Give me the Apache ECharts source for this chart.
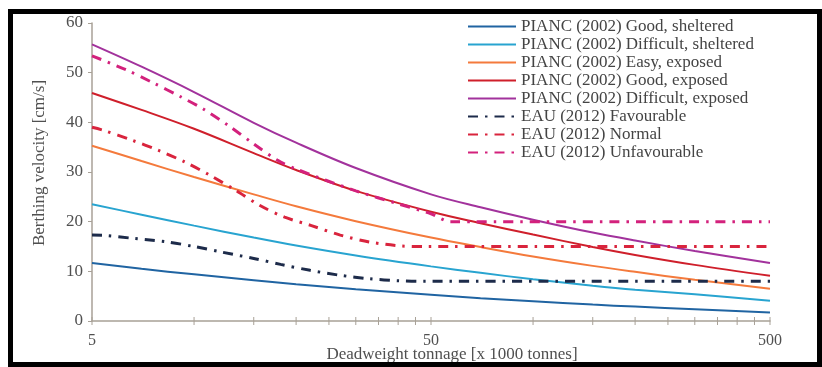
<!DOCTYPE html>
<html>
<head>
<meta charset="utf-8">
<script src="https://cdn.jsdelivr.net/npm/echarts@6/dist/echarts.min.js"></script>
<style>
  html, body { margin: 0; padding: 0; background: #fff; }
  #chart1 { width: 822px; height: 367px; }
</style>
</head>
<body>
<div id="chart1"></div>
<script>
// deadweight tonnage [x 1000 t] for the PIANC curves
var dwt = [5, 7, 10, 15, 20, 30, 50, 70, 100, 150, 200, 300, 500];

// PIANC (2002) berthing velocity [cm/s]
var goodSheltered      = [11.7, 10.5, 9.4, 8.2, 7.4, 6.4, 5.3, 4.6, 4.0, 3.3, 2.9, 2.35, 1.7];
var difficultSheltered = [23.5, 21.4, 19.2, 16.8, 15.2, 13.2, 11.0, 9.7, 8.4, 7.1, 6.3, 5.4, 4.1];
var easyExposed        = [35.3, 32.2, 29.0, 25.5, 23.1, 20.1, 16.8, 14.9, 13.0, 11.1, 9.9, 8.3, 6.5];
var goodExposed        = [45.9, 42.5, 38.7, 33.8, 30.4, 26.2, 22.0, 19.7, 17.4, 14.9, 13.3, 11.3, 9.1];
var difficultExposed   = [55.7, 51.2, 46.1, 39.9, 35.9, 30.8, 25.5, 22.9, 20.4, 17.8, 16.2, 14.1, 11.7];

// EAU (2012)
var favX = [5, 5.5, 6.7, 8.2, 10, 12, 15, 18, 22, 27, 33, 40, 48, 500];
var favV = [17.3, 17.2, 16.6, 16.0, 15.0, 13.9, 12.6, 11.4, 10.2, 9.2, 8.5, 8.1, 8.0, 8.0];
var normX = [5, 5.4, 6.56, 7.83, 9.4, 11.1, 13.2, 15.6, 18.5, 22.2, 27, 33, 41, 48, 500];
var normV = [39.0, 38.4, 36.4, 34.4, 32.0, 29.4, 26.4, 23.3, 20.9, 19.2, 17.3, 15.9, 15.1, 15.0, 15.0];
var unfavX = [5, 6.34, 7.6, 9.1, 10.7, 12.6, 14.9, 17.6, 20, 30, 40, 50, 57, 500];
var unfavV = [53.4, 50.5, 47.9, 45.2, 42.6, 39.4, 35.8, 32.4, 30.6, 26.2, 23.6, 21.6, 20.0, 20.0];

// x axis ticks (log scale)
var xTickLabels = [5, 50, 500];
var xTicks = [5, 10, 15, 20, 25, 30, 35, 40, 45, 50, 100, 150, 200, 250, 300, 350, 400, 450, 500];

var seriesNames = ['PIANC (2002) Good, sheltered', 'PIANC (2002) Difficult, sheltered',
    'PIANC (2002) Easy, exposed', 'PIANC (2002) Good, exposed', 'PIANC (2002) Difficult, exposed',
    'EAU (2012) Favourable', 'EAU (2012) Normal', 'EAU (2012) Unfavourable'];

var FONT = '"Liberation Serif", "DejaVu Serif", serif';
var AXIS = '#a8a197';
var TEXT = '#505050';
var DASHDOT = [10, 7, 2.5, 7];

function lg(x) { return Math.log10(x / xTickLabels[0]); }

function pairs(xs, vs) {
    return xs.map(function (x, i) { return [lg(x), vs[i]]; });
}

function pianc(name, vals, color) {
    return {
        name: name, type: 'line', data: pairs(dwt, vals), smooth: 0.35,
        symbol: 'none', lineStyle: { color: color, width: 2 }, itemStyle: { color: color }
    };
}

function eau(name, xs, vs, color) {
    return {
        name: name, type: 'line', data: pairs(xs, vs), smooth: 0.3,
        symbol: 'none', lineStyle: { color: color, width: 3, type: DASHDOT }, itemStyle: { color: color }
    };
}

var chart = echarts.init(document.getElementById('chart1'));

var option = {
    backgroundColor: '#fff',
    animation: false,
    grid: { left: 92, right: 52, top: 23, bottom: 46 },
    legend: {
        data: seriesNames,
        orient: 'vertical',
        left: 467, top: 18, padding: 0,
        itemWidth: 48, itemHeight: 14, itemGap: 1,
        itemStyle: { opacity: 0 },
        textStyle: { fontFamily: FONT, fontSize: 17, lineHeight: 15, color: '#444' }
    },
    xAxis: {
        type: 'value', min: 0, max: 2, interval: 1,
        axisLine: { lineStyle: { color: AXIS, width: 1.5 } },
        axisTick: { show: false },
        splitLine: { show: false },
        axisLabel: {
            fontFamily: FONT, fontSize: 16, color: TEXT, margin: 12,
            formatter: function (v) { return String(Math.round(xTickLabels[0] * Math.pow(10, v))); }
        }
    },
    yAxis: {
        type: 'value', min: 0, max: 60, interval: 10,
        axisLine: { show: true, lineStyle: { color: AXIS, width: 1.5 } },
        axisTick: { show: true, length: 4, lineStyle: { color: AXIS } },
        splitLine: { show: false },
        axisLabel: { fontFamily: FONT, fontSize: 17, color: TEXT, margin: 9 }
    },
    graphic: [{
        type: 'text', silent: true, x: 452, y: 355,
        style: {
            text: 'Deadweight tonnage [x 1000 tonnes]', fontFamily: FONT, fontSize: 17,
            fill: TEXT, align: 'center', verticalAlign: 'middle'
        }
    }, {
        type: 'text', silent: true, x: 40, y: 163, rotation: Math.PI / 2,
        style: {
            text: 'Berthing velocity [cm/s]', fontFamily: FONT, fontSize: 17,
            fill: TEXT, align: 'center', verticalAlign: 'middle'
        }
    }, {
        type: 'rect', silent: true, z: 100,
        shape: { x: 10.5, y: 11.5, width: 809, height: 353 },
        style: { fill: 'none', stroke: '#000', lineWidth: 5 }
    }],
    series: [
        pianc(seriesNames[0], goodSheltered, '#2064a2'),
        pianc(seriesNames[1], difficultSheltered, '#28a4d0'),
        pianc(seriesNames[2], easyExposed, '#f47a3c'),
        pianc(seriesNames[3], goodExposed, '#cf1f2b'),
        pianc(seriesNames[4], difficultExposed, '#a2329c'),
        eau(seriesNames[5], favX, favV, '#1d2b4a'),
        eau(seriesNames[6], normX, normV, '#d9243d'),
        eau(seriesNames[7], unfavX, unfavV, '#d3217c'),
        {
            name: 'ticks', type: 'custom', silent: true, clip: false,
            data: xTicks.map(function (x) { return [lg(x), 0]; }),
            renderItem: function (params, api) {
                var p = api.coord([api.value(0), 0]);
                return {
                    type: 'line',
                    shape: { x1: p[0], y1: p[1] - 4, x2: p[0], y2: p[1] + 4 },
                    style: { stroke: AXIS, lineWidth: 1 }
                };
            }
        }
    ]
};

chart.setOption(option);
</script>
</body>
</html>
